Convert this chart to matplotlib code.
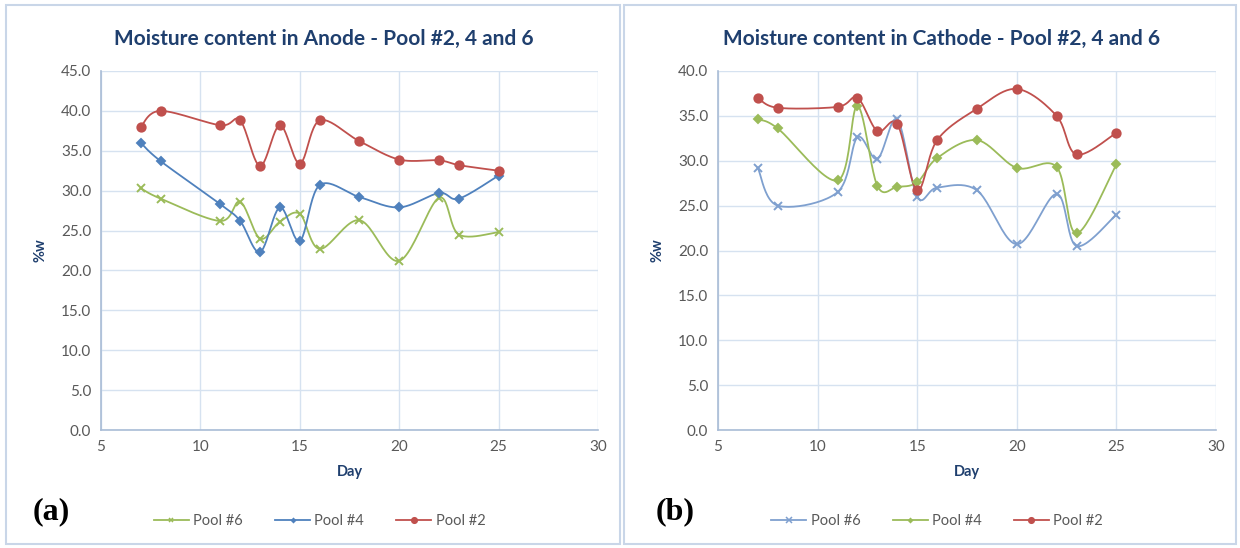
import numpy as np
import matplotlib
matplotlib.use("Agg")
import matplotlib.pyplot as plt
from matplotlib.patches import Rectangle

# sampling days (same for every pool and electrode)
days = [7, 8, 11, 12, 13, 14, 15, 16, 18, 20, 22, 23, 25]

# moisture content in anode, %w
anode_pool6 = [30.3, 29.0, 26.2, 28.6, 24.0, 26.1, 27.1, 22.7, 26.3, 21.2, 29.1, 24.5, 24.8]
anode_pool4 = [36.0, 33.7, 28.3, 26.2, 22.3, 27.9, 23.7, 30.7, 29.2, 27.9, 29.7, 29.0, 31.9]
anode_pool2 = [38.0, 40.0, 38.2, 38.8, 33.1, 38.2, 33.4, 38.8, 36.2, 33.9, 33.8, 33.2, 32.5]

# moisture content in cathode, %w
cathode_pool6 = [29.2, 25.0, 26.5, 32.6, 30.2, 34.6, 26.0, 27.0, 26.7, 20.7, 26.3, 20.5, 24.0]
cathode_pool4 = [34.6, 33.6, 27.8, 36.1, 27.2, 27.1, 27.6, 30.3, 32.3, 29.2, 29.3, 21.9, 29.6]
cathode_pool2 = [37.0, 35.9, 36.0, 37.0, 33.3, 34.1, 26.7, 32.3, 35.8, 38.0, 35.0, 30.7, 33.1]

RED = "#C0504D"
BLUE = "#4F81BD"
GREEN = "#9BBB59"
NAVY = "#1F3F6E"
GREY = "#595959"
GRID = "#D6E2F0"
AXIS = "#A9BCD6"

plt.rcParams["font.family"] = ["Lato", "DejaVu Sans"]


def smooth(x, y, n=24):
    # Excel-style smoothed line: cubic Bezier segments through the points
    pts = np.column_stack([x, y]).astype(float)
    p = np.vstack([pts[0], pts, pts[-1]])
    t = np.linspace(0, 1, n, endpoint=False)[:, None]
    out = []
    for i in range(1, len(p) - 2):
        p0, p1, p2, p3 = p[i - 1], p[i], p[i + 1], p[i + 2]
        c1 = p1 + (p2 - p0) / 6
        c2 = p2 - (p3 - p1) / 6
        out.append((1 - t) ** 3 * p1 + 3 * (1 - t) ** 2 * t * c1
                   + 3 * (1 - t) * t ** 2 * c2 + t ** 3 * p2)
    out.append(pts[-1:])
    c = np.vstack(out)
    return c[:, 0], c[:, 1]


def series(ax, y, color, marker, label, ms):
    sx, sy = smooth(days, y)
    ax.plot(sx, sy, color=color, lw=1.3, zorder=3)
    ax.plot(days, y, ls="none", marker=marker, ms=ms, color=color,
            mec=color, mew=1.4, zorder=4)
    # legend proxy
    ax.plot([], [], color=color, lw=1.3, marker=marker, ms=ms - 2,
            mew=1.1, label=label)


def style(ax, ymax, title):
    ax.set_xlim(5, 30)
    ax.set_ylim(0, ymax)
    ax.set_xticks(range(5, 31, 5))
    ax.set_yticks(np.arange(0, ymax + 0.1, 5))
    ax.set_yticklabels([f"{v:.1f}" for v in np.arange(0, ymax + 0.1, 5)])
    ax.grid(True, color=GRID, lw=1.0)
    ax.set_axisbelow(True)
    for s in ["top", "right"]:
        ax.spines[s].set_visible(False)
    for s in ["left", "bottom"]:
        ax.spines[s].set_color(AXIS)
        ax.spines[s].set_linewidth(1.2)
    ax.tick_params(length=0, labelsize=11, colors=GREY, pad=7)
    ax.set_xlabel("Day", fontsize=10.5, fontweight="bold", color=NAVY, labelpad=8)
    ax.set_ylabel("%w", fontsize=10.5, fontweight="bold", color=NAVY, labelpad=10)
    ax.set_title(title, fontsize=15, fontweight="bold", color=NAVY, pad=19, x=0.448)
    ax.legend(loc="center", bbox_to_anchor=(0.44, -0.253), ncol=3,
              frameon=False, fontsize=10.5, labelcolor=GREY, handlelength=2.4,
              columnspacing=2.2, handletextpad=0.3)


fig = plt.figure(figsize=(12.4, 5.48), dpi=100)

# chart area borders
fig.patches.append(Rectangle((6 / 1240, 4 / 548), 614 / 1240, 539 / 548,
                             transform=fig.transFigure, fill=False,
                             ec="#C9D6E8", lw=1.5))
fig.patches.append(Rectangle((624 / 1240, 4 / 548), 612 / 1240, 539 / 548,
                             transform=fig.transFigure, fill=False,
                             ec="#C9D6E8", lw=1.5))

ax1 = fig.add_axes([101 / 1240, 1 - 430 / 548, 497 / 1240, 359 / 548])
series(ax1, anode_pool6, GREEN, "x", "Pool #6", 5.5)
series(ax1, anode_pool4, BLUE, "D", "Pool #4", 4)
series(ax1, anode_pool2, RED, "o", "Pool #2", 6)
style(ax1, 45, "Moisture content in Anode - Pool #2, 4 and 6")

ax2 = fig.add_axes([718 / 1240, 1 - 430 / 548, 498 / 1240, 359 / 548])
series(ax2, cathode_pool6, "#7FA0CF", "x", "Pool #6", 6)
series(ax2, cathode_pool4, GREEN, "D", "Pool #4", 4)
series(ax2, cathode_pool2, RED, "o", "Pool #2", 6)
style(ax2, 40, "Moisture content in Cathode - Pool #2, 4 and 6")

fig.text(51 / 1240, 1 - 512 / 548, "(a)", family="Liberation Serif",
         fontweight="bold", fontsize=23, ha="center", va="center")
fig.text(675 / 1240, 1 - 512 / 548, "(b)", family="Liberation Serif",
         fontweight="bold", fontsize=23, ha="center", va="center")

fig.savefig("out.png", dpi=100)
